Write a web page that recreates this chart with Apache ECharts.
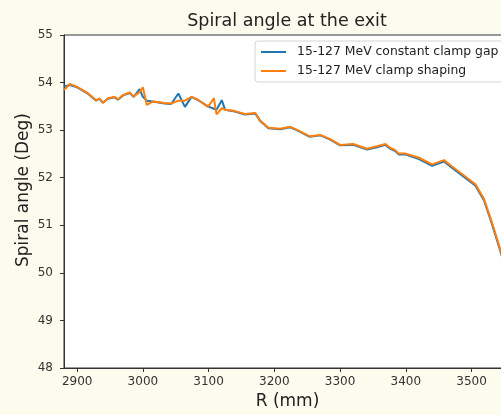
<!DOCTYPE html>
<html>
<head>
<meta charset="utf-8">
<script src="https://cdn.jsdelivr.net/npm/echarts@6/dist/echarts.min.js"></script>
<style>
html,body{margin:0;padding:0;background:#fdfaee;}
#c{width:501px;height:415px;}
</style>
</head>
<body>
<div id="c"></div>
<script>
var title = 'Spiral angle at the exit';
var xName = 'R (mm)';
var yName = 'Spiral angle (Deg)';
var seriesNames = ['15-127 MeV constant clamp gap', '15-127 MeV clamp shaping'];
var xTicks = [2900, 3000, 3100, 3200, 3300, 3400, 3500];
var yTicks = [48, 49, 50, 51, 52, 53, 54, 55];

var R = [2880, 2889, 2900, 2915, 2929, 2934, 2939, 2947, 2957, 2962, 2970, 2980, 2986, 2995, 3000, 3006, 3015, 3033, 3043, 3054, 3064, 3074, 3084, 3099, 3108, 3112, 3120, 3125, 3140, 3155, 3171, 3178, 3191, 3209, 3224, 3234, 3254, 3270, 3285, 3300, 3320, 3341, 3356, 3369, 3376, 3384, 3389, 3399, 3420, 3440, 3458, 3470, 3491, 3506, 3519, 3531, 3542, 3555, 3565];

var constantGap = [53.92, 53.95, 53.90, 53.78, 53.62, 53.66, 53.58, 53.66, 53.69, 53.64, 53.73, 53.78, 53.70, 53.86, 53.70, 53.62, 53.60, 53.56, 53.55, 53.77, 53.49, 53.70, 53.63, 53.50, 53.45, 53.43, 53.63, 53.43, 53.39, 53.33, 53.35, 53.20, 53.04, 53.02, 53.06, 53.00, 52.86, 52.89, 52.80, 52.68, 52.69, 52.59, 52.64, 52.69, 52.61, 52.56, 52.49, 52.49, 52.39, 52.25, 52.34, 52.21, 51.99, 51.83, 51.52, 51.03, 50.54, 49.92, 49.40];

var clampShaping = [53.84, 53.97, 53.91, 53.79, 53.63, 53.67, 53.57, 53.67, 53.70, 53.65, 53.74, 53.79, 53.71, 53.80, 53.90, 53.53, 53.60, 53.57, 53.56, 53.62, 53.62, 53.70, 53.64, 53.49, 53.67, 53.33, 53.46, 53.43, 53.40, 53.34, 53.36, 53.21, 53.05, 53.03, 53.07, 53.01, 52.87, 52.90, 52.81, 52.69, 52.71, 52.61, 52.66, 52.71, 52.63, 52.58, 52.51, 52.51, 52.42, 52.28, 52.37, 52.24, 52.02, 51.86, 51.55, 51.06, 50.57, 49.95, 49.43];

function pairs(xs, ys) { return xs.map(function (x, i) { return [x, ys[i]]; }); }

var font = 'DejaVu Sans';
var chart = echarts.init(document.getElementById('c'), null, {renderer: 'canvas'});
chart.setOption({
  backgroundColor: '#fdfaee',
  animation: false,
  title: {
    text: title, left: 287, top: 12, padding: 0, textAlign: 'center',
    textStyle: {fontFamily: font, fontSize: 17.5, fontWeight: 'normal', color: '#222'}
  },
  legend: {
    data: seriesNames, orient: 'vertical', left: 255, top: 41,
    itemWidth: 25, itemHeight: 14, itemGap: 7,
    padding: [5, 6, 5, 5],
    backgroundColor: '#ffffff', borderColor: '#d5d5d5', borderWidth: 1, borderRadius: 3,
    itemStyle: {color: 'rgba(0,0,0,0)', borderWidth: 0, opacity: 0},
    textStyle: {fontFamily: font, fontSize: 12.4, color: '#222', padding: [0, 0, 0, 6]}
  },
  grid: {
    left: 64, top: 35, width: 447, height: 333,
    outerBoundsMode: 'none', containLabel: false,
    show: true, backgroundColor: '#ffffff', borderColor: '#333', borderWidth: 1
  },
  xAxis: {
    type: 'value', min: 2880, max: 3560,
    name: xName, nameLocation: 'middle', nameGap: 24,
    nameTextStyle: {fontFamily: font, fontSize: 17, color: '#222'},
    axisLine: {show: true, onZero: false, lineStyle: {color: '#333', width: 1}},
    axisTick: {show: true, length: 4, customValues: xTicks, lineStyle: {color: '#333'}},
    axisLabel: {customValues: xTicks, margin: 8, fontFamily: font, fontSize: 12, color: '#333',
      formatter: function (v) { return String(v); }},
    splitLine: {show: false}
  },
  yAxis: {
    type: 'value', min: 48, max: 55, interval: 1,
    axisLine: {show: true, onZero: false, lineStyle: {color: '#333', width: 1}},
    axisTick: {show: true, length: 4, lineStyle: {color: '#333'}},
    axisLabel: {margin: 11, fontFamily: font, fontSize: 12, color: '#333',
      formatter: function (v) { return String(v); }},
    splitLine: {show: false}
  },
  graphic: [{
    type: 'text', rotation: Math.PI / 2,
    style: {text: yName, font: '17px "DejaVu Sans"', fill: '#222', textAlign: 'center', textVerticalAlign: 'middle'},
    x: 24, y: 190
  }],
  series: [
    {name: seriesNames[0], type: 'line', symbol: 'none', data: pairs(R, constantGap),
     lineStyle: {color: '#1f77b4', width: 2}, itemStyle: {color: '#1f77b4'}},
    {name: seriesNames[1], type: 'line', symbol: 'none', data: pairs(R, clampShaping),
     lineStyle: {color: '#ff7f0e', width: 2}, itemStyle: {color: '#ff7f0e'}}
  ]
});
</script>
</body>
</html>
